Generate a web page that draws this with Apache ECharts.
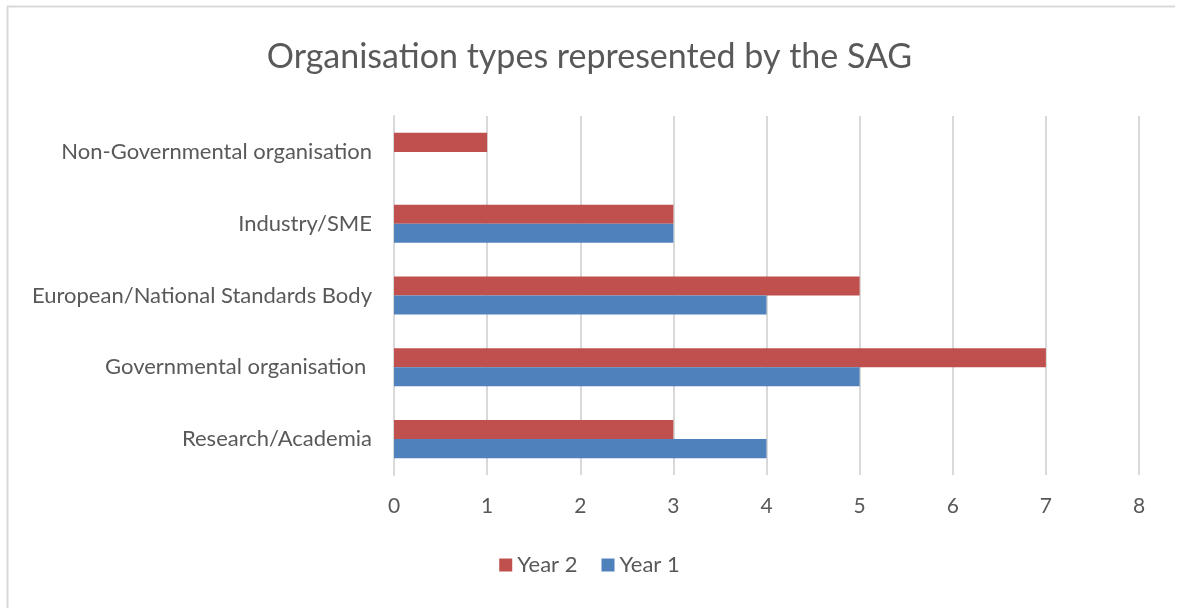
<!DOCTYPE html>
<html>
<head>
<meta charset="utf-8">
<title>Organisation types represented by the SAG</title>
<script src="https://cdn.jsdelivr.net/npm/echarts@6/dist/echarts.min.js"></script>
<style>
    html, body { margin: 0; padding: 0; background: #ffffff; }
    #chart { width: 1179px; height: 608px; }
</style>
</head>
<body>
<div id="chart"></div>
<script>
// 数据
const categories = [
    'Research/Academia',
    'Governmental organisation ',
    'European/National Standards Body',
    'Industry/SME',
    'Non-Governmental organisation'
];
const year1 = [4, 5, 4, 3, 0];
const year2 = [3, 7, 5, 3, 1];
const xTicks = { min: 0, max: 8, interval: 1 };

const FONT = 'Lato, "Open Sans", sans-serif';
const TEXT = '#595959';

const chart = echarts.init(document.getElementById('chart'));

chart.setOption({
    animation: false,
    backgroundColor: '#ffffff',
    title: {
        text: 'Organisation types represented by the SAG',
        left: 'center',
        top: 35,
        textStyle: { fontFamily: FONT, fontSize: 34, fontWeight: 'normal', color: TEXT }
    },
    legend: {
        data: ['Year 2', 'Year 1'],
        bottom: 27,
        left: 'center',
        icon: 'rect',
        itemWidth: 13,
        itemHeight: 13,
        itemGap: 24,
        textStyle: { fontFamily: FONT, fontSize: 22, color: TEXT }
    },
    grid: { left: 394, right: 40, top: 116, bottom: 133, containLabel: false },
    xAxis: {
        type: 'value',
        min: xTicks.min,
        max: xTicks.max,
        interval: xTicks.interval,
        axisLine: { show: false },
        axisTick: { show: false },
        splitLine: { lineStyle: { color: '#d9d9d9', width: 2 } },
        axisLabel: { fontFamily: FONT, fontSize: 21, color: TEXT, margin: 21 }
    },
    yAxis: {
        type: 'category',
        data: categories,
        axisLine: { show: true, lineStyle: { color: '#d9d9d9', width: 2 } },
        axisTick: { show: false },
        axisLabel: { fontFamily: FONT, fontSize: 22, color: TEXT, margin: 22 }
    },
    series: [
        {
            name: 'Year 2',
            type: 'bar',
            data: year2,
            itemStyle: { color: '#c0504d' },
            barGap: '0%',
            barCategoryGap: '47%'
        },
        {
            name: 'Year 1',
            type: 'bar',
            data: year1,
            itemStyle: { color: '#4f81bd' },
            barGap: '0%',
            barCategoryGap: '47%'
        }
    ],
    graphic: [
        {
            type: 'line',
            shape: { x1: 7, y1: 6.5, x2: 1175, y2: 6.5 },
            style: { stroke: '#d9d9d9', lineWidth: 2 }
        },
        {
            type: 'line',
            shape: { x1: 7.5, y1: 6, x2: 7.5, y2: 608 },
            style: { stroke: '#d9d9d9', lineWidth: 2 }
        }
    ]
});
</script>
</body>
</html>
